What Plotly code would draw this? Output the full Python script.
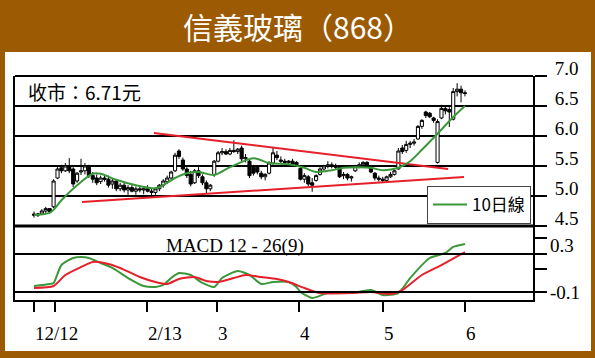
import plotly.graph_objects as go

# ---------------- data ----------------
idx = list(range(111))
opens = [4.70,4.68,4.70,4.75,4.79,4.82,5.30,5.47,5.42,5.50,
         5.45,5.25,5.40,5.42,5.48,5.34,5.30,5.24,5.30,5.28,
         5.20,5.25,5.12,5.18,5.10,5.14,5.08,5.12,5.10,5.12,
         5.08,5.06,5.12,5.18,5.24,5.30,5.42,5.75,5.60,5.45,
         5.36,5.22,5.42,5.32,5.22,5.12,5.36,5.58,5.72,5.74,
         5.70,5.76,5.74,5.80,5.62,5.58,5.48,5.48,5.38,5.32,
         5.38,5.55,5.68,5.60,5.58,5.56,5.58,5.56,5.46,5.28,
         5.32,5.22,5.26,5.36,5.45,5.50,5.52,5.50,5.48,5.34,
         5.36,5.30,5.42,5.50,5.52,5.56,5.50,5.38,5.30,5.28,
         5.26,5.32,5.36,5.45,5.80,5.76,5.86,5.88,5.95,6.16,
         6.40,6.38,6.30,5.56,6.30,6.46,6.44,6.28,6.74,6.78,6.72]
highs = [4.74,4.72,4.78,4.82,4.80,5.28,5.48,5.52,5.55,5.63,
         5.48,5.40,5.62,5.55,5.52,5.40,5.36,5.34,5.36,5.34,
         5.30,5.28,5.22,5.22,5.18,5.20,5.16,5.18,5.15,5.18,
         5.12,5.14,5.20,5.28,5.34,5.42,5.72,5.78,5.64,5.48,
         5.42,5.45,5.48,5.36,5.26,5.20,5.60,5.75,5.80,5.78,
         5.80,5.93,5.80,5.84,5.70,5.60,5.52,5.50,5.42,5.38,
         5.58,5.80,5.75,5.66,5.62,5.60,5.62,5.58,5.48,5.38,
         5.35,5.30,5.36,5.48,5.52,5.58,5.56,5.54,5.50,5.40,
         5.38,5.34,5.52,5.56,5.58,5.58,5.52,5.40,5.34,5.32,
         5.34,5.40,5.44,5.80,5.85,5.92,5.92,5.95,6.18,6.28,
         6.42,6.40,6.32,6.28,6.52,6.50,6.48,6.80,6.88,6.84,6.76]
lows = [4.64,4.65,4.68,4.72,4.72,4.80,5.28,5.38,5.40,5.38,
        5.15,5.22,5.35,5.36,5.30,5.22,5.18,5.20,5.24,5.14,
        5.12,5.08,5.08,5.06,5.02,5.06,5.02,5.06,5.03,5.06,
        5.00,5.02,5.08,5.14,5.20,5.26,5.40,5.62,5.42,5.30,
        5.16,5.20,5.30,5.18,5.04,5.08,5.32,5.56,5.68,5.68,
        5.68,5.72,5.70,5.58,5.56,5.30,5.34,5.36,5.28,5.26,
        5.36,5.52,5.60,5.55,5.52,5.50,5.50,5.50,5.26,5.22,
        5.16,5.07,5.24,5.34,5.42,5.46,5.46,5.44,5.30,5.28,
        5.26,5.24,5.40,5.46,5.48,5.48,5.38,5.26,5.24,5.22,
        5.24,5.30,5.34,5.44,5.70,5.72,5.80,5.84,5.94,6.12,
        6.30,6.30,6.22,5.54,6.28,6.36,6.15,6.26,6.66,6.56,6.66]
closes = [4.68,4.70,4.75,4.79,4.74,5.25,5.45,5.42,5.50,5.42,
          5.20,5.38,5.42,5.50,5.34,5.28,5.22,5.30,5.28,5.18,
          5.25,5.12,5.18,5.10,5.14,5.08,5.12,5.10,5.12,5.08,
          5.06,5.12,5.18,5.25,5.30,5.40,5.68,5.66,5.45,5.34,
          5.20,5.42,5.34,5.22,5.12,5.18,5.58,5.72,5.74,5.70,
          5.76,5.74,5.78,5.62,5.64,5.34,5.38,5.40,5.32,5.36,
          5.55,5.72,5.64,5.58,5.56,5.58,5.52,5.52,5.28,5.34,
          5.20,5.18,5.34,5.45,5.50,5.52,5.50,5.48,5.32,5.36,
          5.30,5.32,5.50,5.52,5.56,5.50,5.40,5.30,5.28,5.26,
          5.32,5.36,5.42,5.75,5.74,5.86,5.88,5.90,6.16,6.26,
          6.34,6.32,6.26,6.24,6.46,6.42,6.40,6.74,6.78,6.72,6.71]

ma_idx = [0,4,5,7,11,15,17,21,26,31,33,36,39,42,46,50,56,60,65,69,72,76,79,83,86,89,93,96,99,102,105,108,110]
ma10 = [4.68,4.72,4.77,4.93,5.18,5.37,5.37,5.27,5.18,5.13,5.18,5.30,5.38,5.40,5.35,5.48,5.63,5.55,5.53,5.47,5.40,5.43,5.47,5.48,5.47,5.43,5.47,5.58,5.77,5.97,6.18,6.38,6.50]

macd_idx = [0,4,5,7,10,12,14,17,20,24,28,31,33,35,37,40,43,46,48,52,55,58,61,65,67,68,71,75,81,86,89,93,96,101,105,107,110]
macd = [-0.037,-0.016,-0.005,0.184,0.258,0.268,0.258,0.205,0.153,0.047,-0.037,-0.047,-0.026,0.047,0.100,0.079,-0.005,-0.047,0.047,0.121,0.079,-0.016,0.005,0.005,-0.047,-0.100,-0.163,-0.111,-0.111,-0.079,-0.132,-0.111,0.047,0.258,0.311,0.374,0.405]

sig_idx = [0,5,8,12,15,19,22,27,31,34,37,41,44,47,51,54,58,62,65,69,73,81,86,91,94,99,104,110]
signal = [-0.058,-0.037,0.079,0.163,0.216,0.195,0.153,0.058,0.005,-0.016,0.037,0.058,0.016,0.005,0.047,0.079,0.058,0.037,0.005,-0.058,-0.111,-0.111,-0.100,-0.121,-0.079,0.079,0.184,0.321]

upper_trend_idx = [30.6, 105.7]
upper_trend = [6.05, 5.45]
lower_trend_idx = [12.25, 109.75]
lower_trend = [4.90, 5.317]

tick_idx = [0, 5.36, 28.84, 46.7, 67.6, 89.1, 110.0]
tick_text = ["12/12", "", "2/13", "3", "4", "5", "6"]
price_ticks = [4.5, 5.0, 5.5, 6.0, 6.5, 7.0]
price_labels = ["4.5", "5.0", "5.5", "6.0", "6.5", "7.0"]
macd_ticks = [0.468, 0.3, 0.142, -0.1]
macd_label_vals = [0.395, -0.1]
macd_labels = ["0.3", "-0.1"]

title = "信義玻璃（868）"
close_text = "收市：6.71元"
legend_name = "10日線"
macd_title = "MACD 12 - 26(9)"

# ---------------- layout helpers ----------------
W, H = 595, 358
L, R, T, B = 15, 533, 76, 300
SPLIT = 226


def px(x):
    return (x - L) / (R - L)


def py(y):
    return (B - y) / (B - T)


BROWN = "#9C5A02"
GREEN = "#3A983A"
RED = "#E5202A"
SERIF = "Liberation Serif"
CJK = "Noto Sans CJK TC"

fig = go.Figure()

fig.add_trace(go.Candlestick(
    x=idx, open=opens, high=highs, low=lows, close=closes,
    increasing=dict(line=dict(color="black", width=1), fillcolor="white"),
    decreasing=dict(line=dict(color="black", width=1), fillcolor="black"),
    whiskerwidth=0, showlegend=False, yaxis="y", xaxis="x"))

fig.add_trace(go.Scatter(x=upper_trend_idx, y=upper_trend, mode="lines",
                         line=dict(color=RED, width=2), showlegend=False, yaxis="y"))
fig.add_trace(go.Scatter(x=lower_trend_idx, y=lower_trend, mode="lines",
                         line=dict(color=RED, width=2), showlegend=False, yaxis="y"))

fig.add_trace(go.Scatter(x=ma_idx, y=ma10, mode="lines", name=legend_name,
                         line=dict(color=GREEN, width=2, shape="spline", smoothing=0.8),
                         showlegend=True, yaxis="y"))

fig.add_trace(go.Scatter(x=macd_idx, y=macd, mode="lines",
                         line=dict(color=GREEN, width=2, shape="spline", smoothing=0.6),
                         showlegend=False, yaxis="y2"))
fig.add_trace(go.Scatter(x=sig_idx, y=signal, mode="lines",
                         line=dict(color=RED, width=2, shape="spline", smoothing=0.6),
                         showlegend=False, yaxis="y3"))

x_lo = -(34 - L) / 3.918
x_hi = (R - 34) / 3.918

dom_split = py(SPLIT)
macd_hi = 0.3 + (254 - SPLIT) / 95
macd_lo = -0.1 - (B - 292) / 95

fig.update_layout(
    width=W, height=H,
    margin=dict(l=L, r=W - R, t=T, b=H - B, pad=0),
    paper_bgcolor=BROWN,
    plot_bgcolor="rgba(0,0,0,0)",
    showlegend=True,
    boxgap=0.12, boxgroupgap=0.1,
    legend=dict(x=px(531), y=py(224), xanchor="right", yanchor="bottom",
                bgcolor="white", bordercolor="#444", borderwidth=1,
                font=dict(family=CJK, size=17, color="black"),
                itemwidth=34, tracegroupgap=0),
    xaxis=dict(range=[x_lo, x_hi], anchor="y2", showgrid=False, zeroline=False,
               tickmode="array", tickvals=tick_idx, ticktext=[""] * len(tick_idx),
               ticks="outside", ticklen=10, tickwidth=2, tickcolor="black",
               showline=True, linecolor="black", linewidth=2,
               rangeslider=dict(visible=False), fixedrange=True),
    yaxis=dict(domain=[dom_split, 1], range=[4.5, 7.0], side="right",
               tickmode="array", tickvals=price_ticks, ticktext=price_labels,
               ticks="outside", ticklen=12, tickwidth=2, tickcolor="black",
               showgrid=True, gridcolor="black", gridwidth=2, zeroline=False,
               showline=True, linecolor="black", linewidth=2, mirror=True,
               ticklabelshift=-8, ticklabelstandoff=4,
               tickfont=dict(family=SERIF, size=19, color="black")),
    yaxis2=dict(domain=[0, dom_split], range=[macd_lo, macd_hi], side="right", anchor="x",
                tickmode="array", tickvals=macd_ticks, ticktext=["", "", "", ""],
                ticks="outside", ticklen=12, tickwidth=2, tickcolor="black",
                showgrid=False, zeroline=False,
                showline=True, linecolor="black", linewidth=2, mirror=True),
    yaxis3=dict(domain=[0, dom_split], range=[macd_lo, macd_hi], side="right", anchor="x",
                overlaying="y2", tickmode="array", tickvals=macd_label_vals,
                ticktext=macd_labels, ticks="", showgrid=False, zeroline=False,
                showline=False, ticklabelstandoff=16,
                tickfont=dict(family=SERIF, size=19, color="black")),
)

shapes = [
    dict(type="rect", xref="paper", yref="paper", x0=px(5), x1=px(591), y0=py(351), y1=py(52),
         fillcolor="white", line=dict(width=0), layer="below"),
    dict(type="line", xref="paper", yref="paper", x0=0, x1=1, y0=1, y1=1,
         line=dict(color="black", width=2)),
    dict(type="line", xref="paper", yref="paper", x0=0, x1=1, y0=dom_split, y1=dom_split,
         line=dict(color="black", width=3)),
    dict(type="line", xref="paper", yref="y2", x0=0, x1=1, y0=0.3, y1=0.3,
         line=dict(color="black", width=2)),
    dict(type="line", xref="paper", yref="y2", x0=0, x1=1, y0=-0.1, y1=-0.1,
         line=dict(color="black", width=2)),
]
fig.update_layout(shapes=shapes)

annotations = [
    dict(text=title, xref="paper", yref="paper", x=px(297.5), y=py(26), xanchor="center",
         yanchor="middle", showarrow=False, font=dict(family=CJK, size=30, color="white")),
    dict(text=close_text, xref="paper", yref="paper", x=px(26), y=py(91), xanchor="left",
         yanchor="middle", showarrow=False, font=dict(family=CJK, size=19, color="black")),
    dict(text=macd_title, xref="paper", yref="paper", x=px(164), y=py(246), xanchor="left",
         yanchor="middle", showarrow=False, font=dict(family=SERIF, size=19, color="black")),
]
for tv, tt in zip(tick_idx, tick_text):
    if tt:
        annotations.append(dict(text=tt, xref="x", yref="paper", x=tv, y=py(333),
                                xanchor="left", yanchor="middle", xshift=-1, showarrow=False,
                                font=dict(family=SERIF, size=19, color="black")))
fig.update_layout(annotations=annotations)

fig.write_html("out.html", config={"displayModeBar": False},
               post_script="document.body.style.margin='0';")
